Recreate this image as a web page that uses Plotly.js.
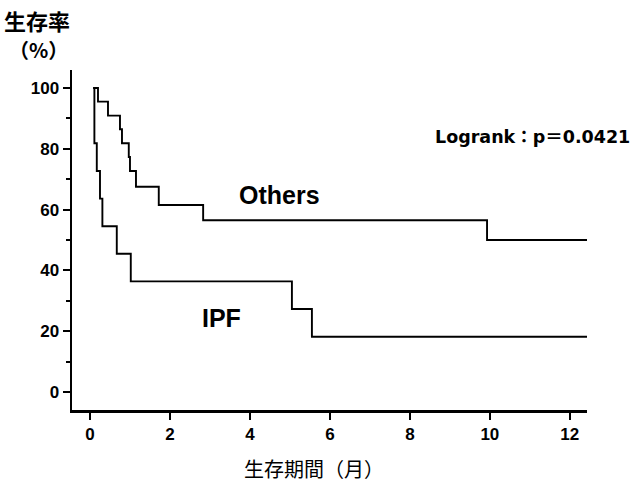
<!DOCTYPE html>
<html>
<head>
<meta charset="utf-8">
<script src="https://cdn.plot.ly/plotly-3.0.1.min.js"></script>
<style>html,body{margin:0;padding:0;background:#fff;}#chart{width:633px;height:483px;}</style>
</head>
<body>
<div id="chart"></div>
<script>
// Kaplan-Meier survival data (months, %)
var othersTime = [0.08, 0.2, 0.45, 0.75, 0.8, 0.97, 1.0, 1.15, 1.72, 2.83, 9.93, 12.45];
var othersSurv = [100, 95.5, 90.9, 86.4, 81.8, 77.3, 72.7, 67.5, 61.5, 56.5, 50.0, 50.0];
var ipfTime = [0.08, 0.11, 0.17, 0.25, 0.31, 0.67, 1.02, 5.05, 5.55, 12.45];
var ipfSurv = [100, 81.8, 72.7, 63.6, 54.5, 45.5, 36.4, 27.3, 18.2, 18.2];
var xTicks = [0, 2, 4, 6, 8, 10, 12];
var yTicks = [0, 20, 40, 60, 80, 100];
var labelOthers = "Others";
var labelIPF = "IPF";
var logrankText = "Logrank：p＝0.0421";
var yTitle1 = "生存率";
var yTitle2 = "（%）";
var xTitle = "生存期間（月）";

var lineStyle = {color: "#000", width: 1.9, shape: "hv"};
var traces = [
  {x: othersTime, y: othersSurv, mode: "lines", line: lineStyle, name: labelOthers, hoverinfo: "skip"},
  {x: ipfTime, y: ipfSurv, mode: "lines", line: lineStyle, name: labelIPF, hoverinfo: "skip"}
];

var tickFont = {family: "Liberation Sans, Arial, sans-serif", size: 17, color: "#000", weight: "bold"};
var cjk = "Noto Sans CJK JP, sans-serif";

var layout = {
  width: 633, height: 483,
  margin: {l: 72, r: 46, t: 70, b: 73},
  paper_bgcolor: "#fff", plot_bgcolor: "#fff",
  showlegend: false,
  xaxis: {
    range: [-0.45, 12.43], tickvals: xTicks, ticktext: xTicks.map(String),
    showgrid: false, zeroline: false, showline: true, linecolor: "#000", linewidth: 2.5,
    ticks: "outside", ticklen: 7, tickwidth: 2, tickcolor: "#000",
    tickfont: tickFont
  },
  yaxis: {
    range: [-5.9, 105.9], tickvals: yTicks, ticktext: yTicks.map(String),
    showgrid: false, zeroline: false, showline: true, linecolor: "#000", linewidth: 2.5,
    ticks: "outside", ticklen: 7, tickwidth: 2, tickcolor: "#000",
    tickfont: tickFont,
    minor: {dtick: 10, tick0: 0, ticks: "outside", ticklen: 4, tickwidth: 2, tickcolor: "#000", showgrid: false}
  },
  annotations: [
    {x: 4.75, y: 64.8, xref: "x", yref: "y", xanchor: "center", yanchor: "middle", text: labelOthers, showarrow: false,
     font: {family: "Liberation Sans, Arial, sans-serif", size: 25, color: "#000", weight: "bold"}},
    {x: 3.3, y: 24.3, xref: "x", yref: "y", xanchor: "center", yanchor: "middle", text: labelIPF, showarrow: false,
     font: {family: "Liberation Sans, Arial, sans-serif", size: 25, color: "#000", weight: "bold"}},
    {x: 1.087, y: 83.9, xref: "paper", yref: "y", xanchor: "right", yanchor: "middle", text: logrankText, showarrow: false,
     font: {family: "DejaVu Sans, Noto Sans CJK JP, sans-serif", size: 17.5, color: "#000", weight: "bold"}},
    {x: -0.068, y: 1.147, xref: "paper", yref: "paper", xanchor: "center", yanchor: "middle", text: yTitle1, showarrow: false,
     font: {family: cjk, size: 22, color: "#000", weight: "bold"}},
    {x: -0.066, y: 1.059, xref: "paper", yref: "paper", xanchor: "center", yanchor: "middle", text: yTitle2, showarrow: false,
     font: {family: cjk, size: 20, color: "#000", weight: "bold"}},
    {x: 0.47, y: -0.171, xref: "paper", yref: "paper", xanchor: "center", yanchor: "middle", text: xTitle, showarrow: false,
     font: {family: cjk, size: 20, color: "#000"}}
  ]
};

Plotly.newPlot("chart", traces, layout, {staticPlot: true, displayModeBar: false});
</script>
</body>
</html>
